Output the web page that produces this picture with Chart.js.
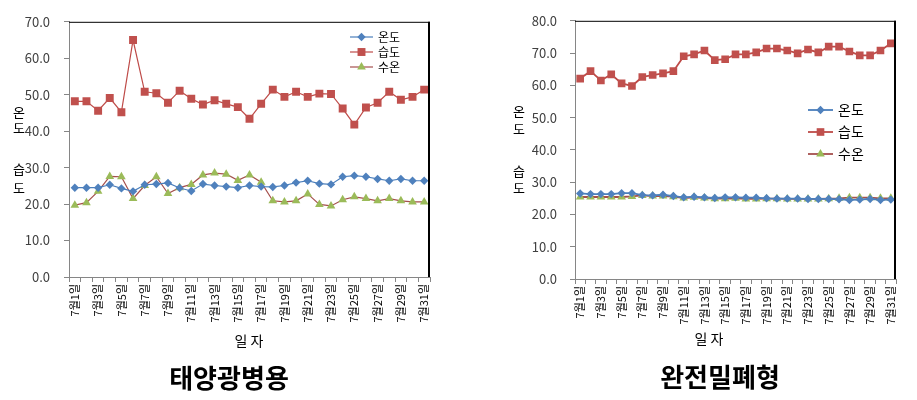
<!DOCTYPE html>
<html><head><meta charset="utf-8">
<script src="https://cdn.jsdelivr.net/npm/chart.js@4/dist/chart.umd.min.js"></script>
<style>
html,body{margin:0;padding:0;background:#fff;}
#wrap{position:relative;width:917px;height:400px;background:#fff;}
.box{position:absolute;top:0;height:400px;}
</style></head><body>
<div id="wrap">
<div class="box" style="left:0;width:460px"><canvas id="c1" width="460" height="400"></canvas></div>
<div class="box" style="left:460px;width:457px"><canvas id="c2" width="457" height="400"></canvas></div>
</div>
<script>
// ---------- DATA ----------
const days = ['7월1일','7월2일','7월3일','7월4일','7월5일','7월6일','7월7일','7월8일','7월9일','7월10일',
  '7월11일','7월12일','7월13일','7월14일','7월15일','7월16일','7월17일','7월18일','7월19일','7월20일',
  '7월21일','7월22일','7월23일','7월24일','7월25일','7월26일','7월27일','7월28일','7월29일','7월30일','7월31일'];
const seriesNames = ['온도','습도','수온'];
const chartTitles = ['태양광병용','완전밀폐형'];
const xAxisTitle = '일 자';
const yAxisTitleChars = ['온','도','습','도'];

// 태양광병용
const tempA  = [24.5,24.5,24.5,25.3,24.3,23.5,25.3,25.5,25.8,24.4,23.6,25.5,25.1,24.8,24.5,25.1,24.8,24.7,25.1,25.9,26.4,25.6,25.4,27.5,27.8,27.5,26.9,26.4,26.9,26.4,26.4];
const humA   = [48.2,48.2,45.6,49.1,45.2,65.0,50.8,50.4,47.8,51.1,48.9,47.3,48.5,47.5,46.6,43.4,47.5,51.4,49.4,50.8,49.4,50.3,50.2,46.2,41.8,46.5,47.8,50.8,48.6,49.4,51.4];
const waterA = [19.7,20.4,23.5,27.6,27.5,21.5,25.1,27.5,22.9,24.5,25.4,28.0,28.5,28.2,26.5,28.0,26.0,20.9,20.6,20.9,22.8,19.9,19.5,21.2,22.0,21.5,20.9,21.5,20.9,20.6,20.6];

// 완전밀폐형
const tempB  = [26.5,26.3,26.3,26.3,26.6,26.6,26.0,25.9,26.1,25.7,25.3,25.5,25.3,25.1,25.3,25.3,25.2,25.2,25.0,24.9,24.9,24.9,24.8,24.8,24.8,24.7,24.5,24.6,24.8,24.5,24.6];
const humB   = [62.1,64.4,61.5,63.4,60.6,59.8,62.6,63.2,63.7,64.4,69.0,69.6,70.8,67.8,68.1,69.6,69.6,70.2,71.4,71.4,70.8,69.9,71.1,70.2,72.0,72.0,70.5,69.3,69.3,70.8,73.0];
const waterB = [25.4,25.4,25.4,25.4,25.4,25.6,25.9,25.7,25.7,25.5,25.1,25.3,25.1,24.9,24.9,25.0,24.8,24.8,24.9,24.9,24.8,24.8,24.8,24.8,24.9,25.0,25.2,25.2,25.2,25.0,25.0];

const yMaxA = 70, yMaxB = 80, yStep = 10;

// ---------- STYLE ----------
const KFONT = "'Noto Sans CJK KR', 'Noto Sans', sans-serif";
const BLUE = '#4F81BD', RED = '#C0504D', GREEN = '#9BBB59';

function drawMarker(ctx, style, x, y, r, color) {
  ctx.save();
  ctx.fillStyle = color;
  ctx.beginPath();
  if (style === 'rectRot') {
    ctx.moveTo(x, y - r); ctx.lineTo(x + r, y); ctx.lineTo(x, y + r); ctx.lineTo(x - r, y);
  } else if (style === 'rect') {
    const h = r * Math.SQRT1_2;
    ctx.rect(x - h, y - h, 2 * h, 2 * h);
  } else {
    for (let k = 0; k < 3; k++) {
      const a = k * 2 * Math.PI / 3;
      const px = x + Math.sin(a) * r, py = y - Math.cos(a) * r;
      if (k === 0) ctx.moveTo(px, py); else ctx.lineTo(px, py);
    }
  }
  ctx.closePath();
  ctx.fill();
  ctx.restore();
}

const annot = {
  id: 'annot',
  afterDraw(chart, args, o) {
    const ctx = chart.ctx, a = chart.chartArea;
    ctx.save();
    // plot frame (top + right)
    ctx.strokeStyle = '#000';
    ctx.lineWidth = 1;
    ctx.beginPath(); ctx.moveTo(a.left, a.top + 0.5); ctx.lineTo(a.right, a.top + 0.5); ctx.stroke();
    ctx.lineWidth = 2;
    ctx.beginPath(); ctx.moveTo(a.right - 1, a.top); ctx.lineTo(a.right - 1, a.bottom); ctx.stroke();

    // legend
    const L = o.legend;
    chart.data.datasets.forEach((ds, i) => {
      const y = L.y + i * L.gap;
      ctx.strokeStyle = ds.borderColor; ctx.lineWidth = ds.borderWidth;
      ctx.beginPath(); ctx.moveTo(L.x, y); ctx.lineTo(L.x + L.len, y); ctx.stroke();
      drawMarker(ctx, ds.pointStyle, L.x + L.len / 2, y, ds.pointRadius, ds.pointBackgroundColor);
      ctx.fillStyle = '#000';
      ctx.font = L.size + 'px ' + KFONT;
      ctx.textAlign = 'left'; ctx.textBaseline = 'middle';
      ctx.fillText(ds.label, L.x + L.len + L.textGap, y);
    });

    // y axis title (stacked characters)
    ctx.fillStyle = '#000';
    ctx.font = o.ytitle.size + 'px ' + KFONT;
    ctx.textAlign = 'center'; ctx.textBaseline = 'middle';
    o.ytitle.ys.forEach((yy, i) => ctx.fillText(yAxisTitleChars[i], o.ytitle.x, yy));

    // x axis title
    ctx.font = o.xtitle.size + 'px ' + KFONT;
    ctx.fillText(xAxisTitle, o.xtitle.x, o.xtitle.y);

    // chart title
    ctx.font = 'bold ' + o.title.size + 'px ' + KFONT;
    ctx.fillText(o.title.text, o.title.x, o.title.y);
    ctx.restore();
  }
};

function makeDatasets(t, h, w, lw, rD, rS, rT) {
  return [
    { label: seriesNames[0], data: t, borderColor: '#4A7EBB', backgroundColor: BLUE, borderWidth: lw,
      pointStyle: 'rectRot', pointRadius: rD, pointBackgroundColor: BLUE, pointBorderWidth: 0, pointHoverRadius: rD },
    { label: seriesNames[1], data: h, borderColor: '#BE4B48', backgroundColor: RED, borderWidth: lw,
      pointStyle: 'rect', pointRadius: rS, pointBackgroundColor: RED, pointBorderWidth: 0, pointHoverRadius: rS },
    { label: seriesNames[2], data: w, borderColor: '#A5504D', backgroundColor: GREEN, borderWidth: lw,
      pointStyle: 'triangle', pointRadius: rT, pointBackgroundColor: GREEN, pointBorderWidth: 0, pointHoverRadius: rT }
  ];
}

function makeChart(id, cfg) {
  return new Chart(document.getElementById(id), {
    type: 'line',
    data: { labels: days, datasets: cfg.datasets },
    plugins: [annot],
    options: {
      responsive: false,
      animation: false,
      events: [],
      layout: { padding: cfg.padding },
      plugins: {
        legend: { display: false },
        tooltip: { enabled: false },
        title: { display: false },
        annot: cfg.annot
      },
      scales: {
        x: {
          offset: true,
          ticks: {
            autoSkip: false, maxRotation: 90, minRotation: 90, padding: 2,
            font: { family: KFONT, size: 11 }, color: '#000',
            callback: function (v, i) { return i % 2 === 0 ? this.getLabelForValue(v) : ''; }
          },
          grid: { drawOnChartArea: false, tickLength: 5, color: '#868686', offset: true },
          border: { color: '#868686' },
          afterFit: (s) => { s.height = 50; }
        },
        y: {
          min: 0, max: cfg.yMax,
          ticks: {
            stepSize: yStep, padding: cfg.yPad,
            callback: (v) => Number(v).toFixed(1),
            font: { family: KFONT, size: 13 }, color: '#404040'
          },
          grid: { drawOnChartArea: false, tickLength: 5, color: '#868686' },
          border: { color: '#868686' },
          afterFit: (s) => { s.width = cfg.yWidth; }
        }
      }
    }
  });
}

makeChart('c1', {
  datasets: makeDatasets(tempA, humA, waterA, 1.2, 4.2, 5.6, 5),
  padding: { left: 20, right: 30, top: 19, bottom: 73 },
  yMax: yMaxA, yWidth: 49, yPad: 14,
  annot: {
    legend: { x: 350, y: 37, gap: 15, len: 23, textGap: 5, size: 12 },
    ytitle: { x: 19, ys: [112, 128, 169, 188], size: 13 },
    xtitle: { x: 249, y: 341, size: 14 },
    title: { text: chartTitles[0], x: 229, y: 378, size: 26 }
  }
});

makeChart('c2', {
  datasets: makeDatasets(tempB, humB, waterB, 1.8, 4.2, 5.4, 5),
  padding: { left: 68, right: 21, top: 17, bottom: 71 },
  yMax: yMaxB, yWidth: 47, yPad: 13,
  annot: {
    legend: { x: 348, y: 110, gap: 22, len: 25, textGap: 5, size: 14 },
    ytitle: { x: 59, ys: [111, 129, 171, 188], size: 13 },
    xtitle: { x: 249, y: 339, size: 14 },
    title: { text: chartTitles[1], x: 260, y: 377, size: 26 }
  }
});
</script>
</body></html>
